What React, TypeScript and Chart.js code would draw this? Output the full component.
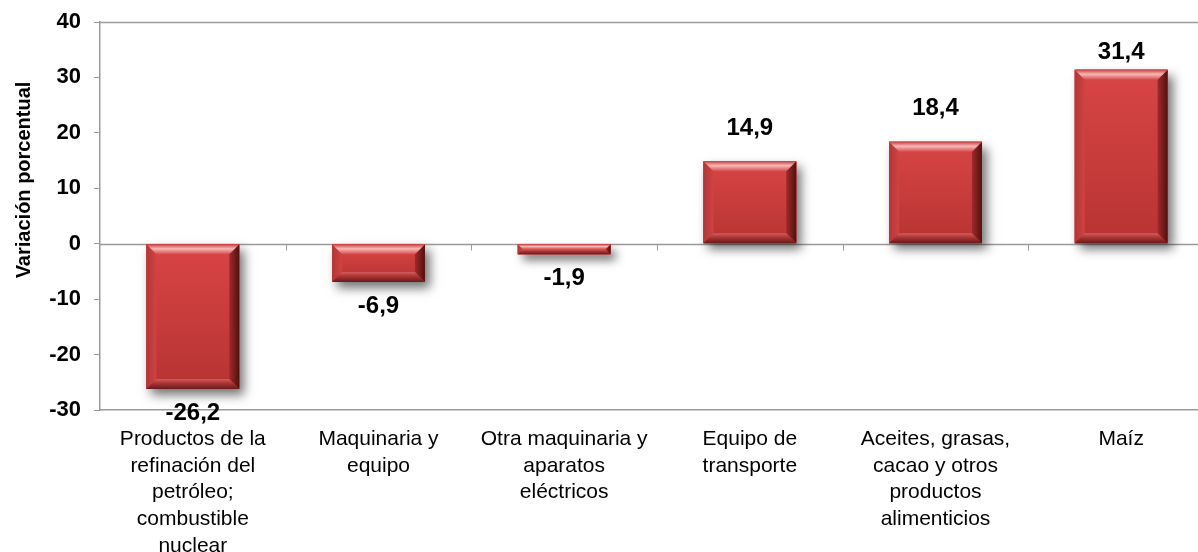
import React, { useEffect, useRef } from "react";
import { Chart, registerables } from "chart.js";

Chart.register(...registerables);

const categories: string[][] = [
  ["Productos de la", "refinación del", "petróleo;", "combustible", "nuclear"],
  ["Maquinaria y", "equipo"],
  ["Otra maquinaria y", "aparatos", "eléctricos"],
  ["Equipo de", "transporte"],
  ["Aceites, grasas,", "cacao y otros", "productos", "alimenticios"],
  ["Maíz"],
];
const values: number[] = [-26.2, -6.9, -1.9, 14.9, 18.4, 31.4];
const valueLabels: string[] = ["-26,2", "-6,9", "-1,9", "14,9", "18,4", "31,4"];
const yMin = -30;
const yMax = 40;
const yStep = 10;
const yTitle = "Variación porcentual";

const FONT = 'Arial, "Liberation Sans", sans-serif';
const AXIS_GRAY = "#9a9a9a";
const PLOT_TOP = 22;

const framePlugin = {
  id: "frame",
  beforeDatasetsDraw(chart: any) {
    const { ctx, chartArea, scales } = chart;
    const x = scales.x;
    const y = scales.y;
    ctx.save();
    ctx.strokeStyle = AXIS_GRAY;
    ctx.lineWidth = 1.5;
    const yt = Math.round(y.getPixelForValue(yMax)) + 0.5;
    ctx.beginPath();
    ctx.moveTo(chartArea.left, yt);
    ctx.lineTo(chartArea.right, yt);
    ctx.stroke();
    const y0 = Math.round(y.getPixelForValue(0)) + 0.5;
    ctx.beginPath();
    ctx.moveTo(chartArea.left, y0);
    ctx.lineTo(chartArea.right, y0);
    ctx.stroke();
    ctx.lineWidth = 1;
    for (let i = 1; i < categories.length; i++) {
      const bx = Math.round((x.getPixelForValue(i - 1) + x.getPixelForValue(i)) / 2) + 0.5;
      ctx.beginPath();
      ctx.moveTo(bx, y0);
      ctx.lineTo(bx, y0 + 6);
      ctx.stroke();
    }
    const meta = chart.getDatasetMeta(0);
    meta.data.forEach((bar: any) => {
      const l = bar.x - bar.width / 2;
      const r = bar.x + bar.width / 2;
      const t = Math.min(bar.y, bar.base);
      const b = Math.max(bar.y, bar.base);
      ctx.save();
      ctx.shadowColor = "rgba(0,0,0,0.55)";
      ctx.shadowBlur = 10;
      ctx.shadowOffsetX = 5;
      ctx.shadowOffsetY = 6;
      ctx.fillStyle = "#b83434";
      ctx.fillRect(l, t, r - l, b - t);
      ctx.restore();
    });
    ctx.save();
    ctx.translate(24, 180);
    ctx.rotate(-Math.PI / 2);
    ctx.fillStyle = "#000";
    ctx.font = `bold 20px ${FONT}`;
    ctx.textAlign = "center";
    ctx.textBaseline = "middle";
    ctx.fillText(yTitle, 0, 0);
    ctx.restore();
    ctx.restore();
  },
  afterDatasetsDraw(chart: any) {
    const { ctx, chartArea } = chart;
    const meta = chart.getDatasetMeta(0);
    ctx.save();
    meta.data.forEach((bar: any, i: number) => {
      const l = bar.x - bar.width / 2;
      const r = bar.x + bar.width / 2;
      const t = Math.min(bar.y, bar.base);
      const bt = Math.max(bar.y, bar.base);
      const h = bt - t;
      const bv = Math.min(10, h / 2);
      const fg = ctx.createLinearGradient(0, t, 0, bt);
      fg.addColorStop(0, "#d84545");
      fg.addColorStop(1, "#b83333");
      ctx.fillStyle = fg;
      ctx.fillRect(l, t, r - l, h);
      const lg = ctx.createLinearGradient(l, 0, l + bv, 0);
      lg.addColorStop(0, "#b33636");
      lg.addColorStop(1, "#cf4343");
      ctx.fillStyle = lg;
      ctx.beginPath();
      ctx.moveTo(l, t);
      ctx.lineTo(l + bv, t + bv);
      ctx.lineTo(l + bv, bt - bv);
      ctx.lineTo(l, bt);
      ctx.closePath();
      ctx.fill();
      const rg = ctx.createLinearGradient(r - bv, 0, r, 0);
      rg.addColorStop(0, "#a02a2a");
      rg.addColorStop(1, "#521010");
      ctx.fillStyle = rg;
      ctx.beginPath();
      ctx.moveTo(r, t);
      ctx.lineTo(r, bt);
      ctx.lineTo(r - bv, bt - bv);
      ctx.lineTo(r - bv, t + bv);
      ctx.closePath();
      ctx.fill();
      const bg = ctx.createLinearGradient(0, bt - bv, 0, bt);
      bg.addColorStop(0, "#d45c5c");
      bg.addColorStop(0.4, "#ad3636");
      bg.addColorStop(1, "#6a1a1a");
      ctx.fillStyle = bg;
      ctx.beginPath();
      ctx.moveTo(l, bt);
      ctx.lineTo(r, bt);
      ctx.lineTo(r - bv, bt - bv);
      ctx.lineTo(l + bv, bt - bv);
      ctx.closePath();
      ctx.fill();
      const tg = ctx.createLinearGradient(0, t, 0, t + bv);
      tg.addColorStop(0, "#c63e3e");
      tg.addColorStop(0.45, "#f8b8b8");
      tg.addColorStop(1, "#d84c4c");
      ctx.fillStyle = tg;
      ctx.beginPath();
      ctx.moveTo(l, t);
      ctx.lineTo(r, t);
      ctx.lineTo(r - bv, t + bv);
      ctx.lineTo(l + bv, t + bv);
      ctx.closePath();
      ctx.fill();

      const v = values[i];
      ctx.fillStyle = "#000";
      ctx.font = `bold 24px ${FONT}`;
      ctx.textAlign = "center";
      ctx.textBaseline = "middle";
      const ly = v >= 0 ? Math.max(bar.y - 33, chartArea.top + 30) : bar.y + 24;
      ctx.fillText(valueLabels[i], bar.x, ly);
    });
    ctx.restore();
  },
};

export default function App() {
  const canvasRef = useRef<HTMLCanvasElement | null>(null);

  useEffect(() => {
    if (!canvasRef.current) return;
    Chart.defaults.font.family = FONT;
    const chart: any = new Chart(canvasRef.current, {
      type: "bar",
      data: {
        labels: categories,
        datasets: [
          {
            data: values,
            backgroundColor: "#c43c3c",
            borderWidth: 0,
            barPercentage: 0.5,
            categoryPercentage: 1,
          },
        ],
      },
      options: {
        responsive: false,
        animation: false,
        devicePixelRatio: 1,
        layout: { padding: { top: PLOT_TOP, left: 0, right: 0, bottom: 0 } },
        plugins: {
          legend: { display: false },
          tooltip: { enabled: false },
        },
        scales: {
          x: {
            offset: true,
            grid: { display: false, drawTicks: false },
            border: { display: true, color: AXIS_GRAY, width: 1.5 },
            ticks: {
              color: "#000",
              font: { size: 21, family: FONT, lineHeight: 1.27 },
              padding: 16,
              maxRotation: 0,
              autoSkip: false,
            },
            afterFit(scale: any) {
              scale.height = 142;
              scale.paddingLeft = 0;
              scale.paddingRight = 0;
            },
          },
          y: {
            min: yMin,
            max: yMax,
            ticks: {
              stepSize: yStep,
              color: "#000",
              font: { size: 22, weight: "bold", family: FONT },
              padding: 13,
            },
            grid: {
              drawOnChartArea: false,
              drawTicks: true,
              tickLength: 6,
              color: AXIS_GRAY,
            },
            border: { display: true, color: AXIS_GRAY, width: 1.5 },
            title: { display: false },
            afterFit(scale: any) {
              scale.width = 100;
              scale.paddingTop = 0;
              scale.paddingBottom = 0;
            },
          },
        },
      },
      plugins: [framePlugin],
    });
    return () => chart.destroy();
  }, []);

  return (
    <div
      style={{
        position: "fixed",
        left: 0,
        top: 0,
        width: 1198,
        height: 552,
        overflow: "hidden",
        background: "#fff",
      }}
    >
      <canvas ref={canvasRef} width={1214} height={552} style={{ display: "block" }} />
    </div>
  );
}
